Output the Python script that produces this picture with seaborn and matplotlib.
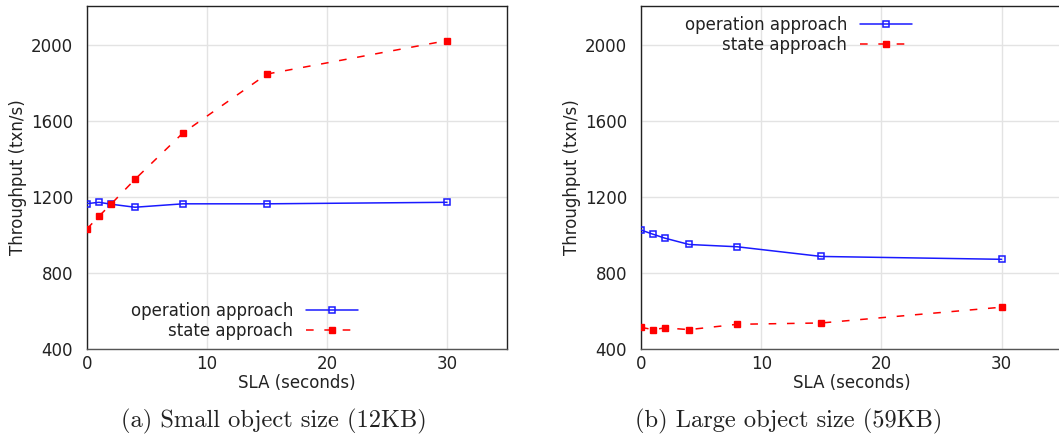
import numpy as np
import pandas as pd
import matplotlib
matplotlib.use("Agg")
import matplotlib.pyplot as plt
import seaborn as sns

# SLA values (seconds) shared by both experiments
sla = [0, 1, 2, 4, 8, 15, 30]

# Throughput (txn/s), small objects (12KB)
op_small = [1165, 1172, 1162, 1146, 1164, 1164, 1172]
state_small = [1032, 1099, 1162, 1293, 1537, 1847, 2023]

# Throughput (txn/s), large objects (59KB)
op_large = [1026, 1004, 983, 950, 938, 887, 872]
state_large = [514, 502, 511, 502, 530, 537, 620]

series_names = ["operation approach", "state approach"]
captions = ["(a) Small object size (12KB)", "(b) Large object size (59KB)"]
y_ticks = [400, 800, 1200, 1600, 2000]
x_ticks = [0, 10, 20, 30]

sns.set_theme(style="white")
plt.rcParams["font.family"] = ["DejaVu Sans"]

W, H = 1059, 440
fig = plt.figure(figsize=(W / 100, H / 100), dpi=100)


def px_axes(x0, x1, ytop, ybot):
    return fig.add_axes([x0 / W, 1 - ybot / H, (x1 - x0) / W, (ybot - ytop) / H])


ax_a = px_axes(87, 507, 6, 349)
ax_b = px_axes(641, 1061.7, 6, 349)

blue = "#1a1aff"
red = "#ff0000"


def draw_panel(ax, op_vals, state_vals):
    df_op = pd.DataFrame({"sla": sla, "tput": op_vals})
    df_st = pd.DataFrame({"sla": sla, "tput": state_vals})
    sns.lineplot(data=df_op, x="sla", y="tput", ax=ax, color=blue, lw=1.1,
                 marker="s", markersize=5.0, markerfacecolor="none",
                 markeredgecolor=blue, markeredgewidth=1.1,
                 label=series_names[0], zorder=3)
    sns.lineplot(data=df_st, x="sla", y="tput", ax=ax, color=red, lw=1.1,
                 marker="s", markersize=5.0, markerfacecolor=red,
                 markeredgecolor=red, markeredgewidth=1.0,
                 dashes=(5.0, 7.0), label=series_names[1], zorder=3)
    ax.set_xlim(0, 35)
    ax.set_ylim(400, 2205)
    ax.set_xticks(x_ticks)
    ax.set_yticks(y_ticks)
    ax.set_xticklabels([str(v) for v in x_ticks], fontsize=12, color="#222222")
    ax.set_yticklabels([str(v) for v in y_ticks], fontsize=12, color="#222222")
    ax.tick_params(axis="x", direction="in", length=6, width=1, pad=4, color="#222222")
    ax.tick_params(axis="y", direction="in", length=8, width=1.5, pad=10, color="#777777")
    ax.grid(True, color="#e3e3e3", lw=1.0, zorder=0)
    ax.set_axisbelow(True)
    for s in ax.spines.values():
        s.set_visible(True)
        s.set_color("#222222")
        s.set_linewidth(1.0)
    ax.spines["bottom"].set_color("#555555")
    ax.set_xlabel("SLA (seconds)", fontsize=12, color="#222222", labelpad=1)
    ax.set_ylabel("Throughput (txn/s)", fontsize=12, color="#222222", labelpad=2.5)


draw_panel(ax_a, op_small, state_small)
draw_panel(ax_b, op_large, state_large)


def place_legend(ax, right_px, center_px):
    leg = ax.legend(loc="center right", bbox_to_anchor=(right_px / W, 1 - center_px / H),
                    bbox_transform=fig.transFigure, frameon=False, markerfirst=False,
                    fontsize=12, handlelength=3.1, handletextpad=0.8,
                    labelspacing=0.1, borderpad=0, borderaxespad=0)
    for t in leg.get_texts():
        t.set_color("#222222")
    return leg


place_legend(ax_a, 358, 321)
place_legend(ax_b, 912, 35)

cap_kw = dict(ha="center", va="center", fontsize=17.6, color="#222222", family=["cmr10", "DejaVu Serif"])
fig.text(274 / W, 1 - 421 / H, captions[0], **cap_kw)
fig.text(789 / W, 1 - 421 / H, captions[1], **cap_kw)

fig.savefig("out.png", dpi=100)
